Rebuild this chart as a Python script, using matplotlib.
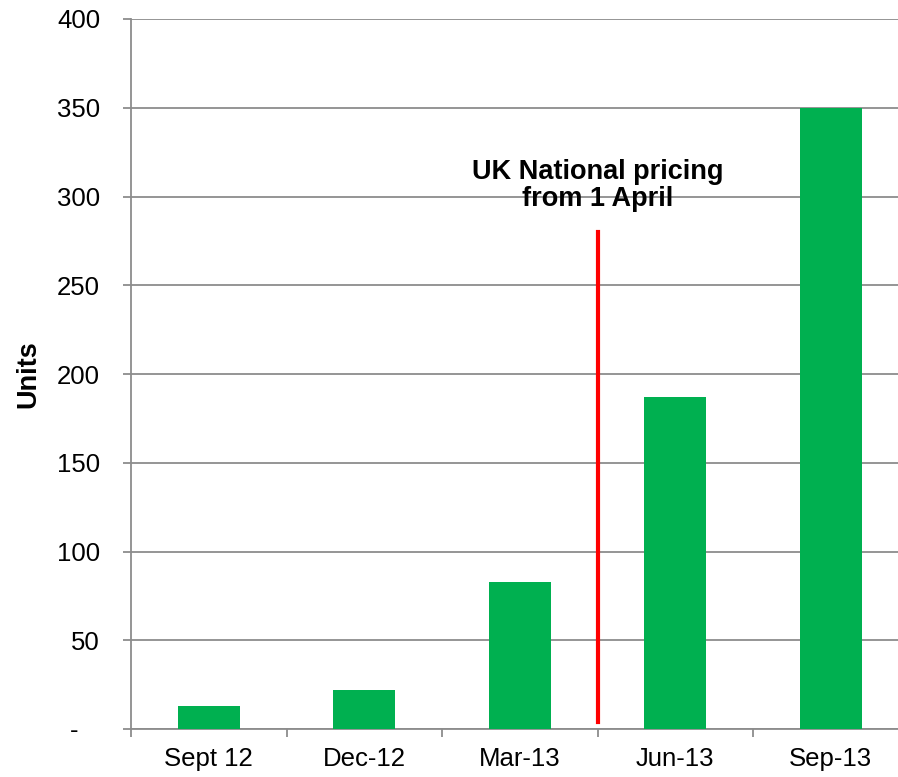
import matplotlib
matplotlib.use("Agg")
import matplotlib.pyplot as plt
import numpy as np

plt.rcParams['font.family'] = ['Liberation Sans', 'DejaVu Sans']

quarters = ['Sept 12', 'Dec-12', 'Mar-13', 'Jun-13', 'Sep-13']
units = [13, 22, 83, 187, 350]
y_ticks = [0, 50, 100, 150, 200, 250, 300, 350, 400]
y_tick_labels = ['-   ', '50', '100', '150', '200', '250', '300', '350', '400']

# national pricing change marker (between Mar-13 and Jun-13)
change_x = 2.5
change_y = [4, 280]
change_label = 'UK National pricing\nfrom 1 April'

grid_col = '#8c8c8c'
bar_col = '#00b050'

fig = plt.figure(figsize=(8.98, 7.77), dpi=100)
# axes run slightly past the right edge of the figure
ax = fig.add_axes([131 / 898, 48 / 777, 777.5 / 898, 710 / 777])

x = np.arange(len(quarters))
ax.bar(x, units, width=0.4, color=bar_col, zorder=3)

ax.set_xlim(-0.5, len(quarters) - 0.5)
ax.set_ylim(0, 400)
ax.set_yticks(y_ticks)
ax.set_yticklabels(y_tick_labels, fontsize=18.5)
ax.yaxis.grid(True, color=grid_col, linewidth=1.3, zorder=0)
ax.set_axisbelow(True)

ax.set_xticks(x)
ax.set_xticklabels(quarters, fontsize=18.5)
ax.tick_params(axis='x', which='major', length=0, pad=13)
ax.set_xticks(np.arange(-0.5, len(quarters)), minor=True)
ax.tick_params(axis='x', which='minor', length=6, width=1.3, color=grid_col)
ax.tick_params(axis='y', length=5.8, width=1.3, color=grid_col, pad=16.5)

for side in ['top', 'right']:
    ax.spines[side].set_visible(False)
for side in ['left', 'bottom']:
    ax.spines[side].set_color(grid_col)
    ax.spines[side].set_linewidth(1.3)

ax.set_ylabel('Units', fontsize=19.5, fontweight='bold', labelpad=11)

ax.plot([change_x, change_x], change_y, color='#ff0000', linewidth=3, zorder=4)
ax.text(change_x, 306, change_label, ha='center', va='center',
        fontsize=19.5, fontweight='bold', linespacing=1.05)

fig.savefig('out.png', dpi=100)
